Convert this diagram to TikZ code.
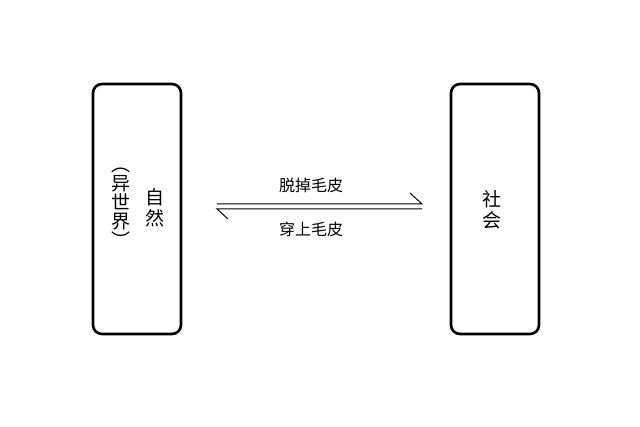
\documentclass[tikz,border=0pt]{standalone}
\usepackage{fontspec}
\newfontfamily\cjk{Noto Sans CJK SC}
\begin{document}
\begin{tikzpicture}[x=1pt,y=-1pt,
  box/.style={draw,line width=2.6pt,rounded corners=9pt},
  vt/.style={font=\cjk\fontsize{19}{19}\selectfont,align=center,inner sep=0pt},
  lab/.style={font=\cjk\fontsize{16}{16}\selectfont,inner sep=0pt},
  ln/.style={line width=1pt}]
\useasboundingbox (0,0) rectangle (640,427);
\draw[box] (93,84) rectangle (181,334);
\draw[box] (451,84) rectangle (539,334);
\node[vt] (nat) at (155,208) {自\\[2pt]然};
\node[vt] (isekai) at (121,208) {︵\\异\\世\\界\\︶};
\node[vt] (soc) at (492,210) {社\\[2pt]会};
\coordinate (a1) at (217,204);
\coordinate (a2) at (422,204);
\coordinate (b1) at (422,209);
\coordinate (b2) at (217,209);
\draw[ln] (a1) -- (a2) -- (410,193);
\draw[ln] (b1) -- (b2) -- (228,219);
\node[lab] (t1) at (311,185) {脱掉毛皮};
\node[lab] (t2) at (311,229) {穿上毛皮};
\end{tikzpicture}
\end{document}
